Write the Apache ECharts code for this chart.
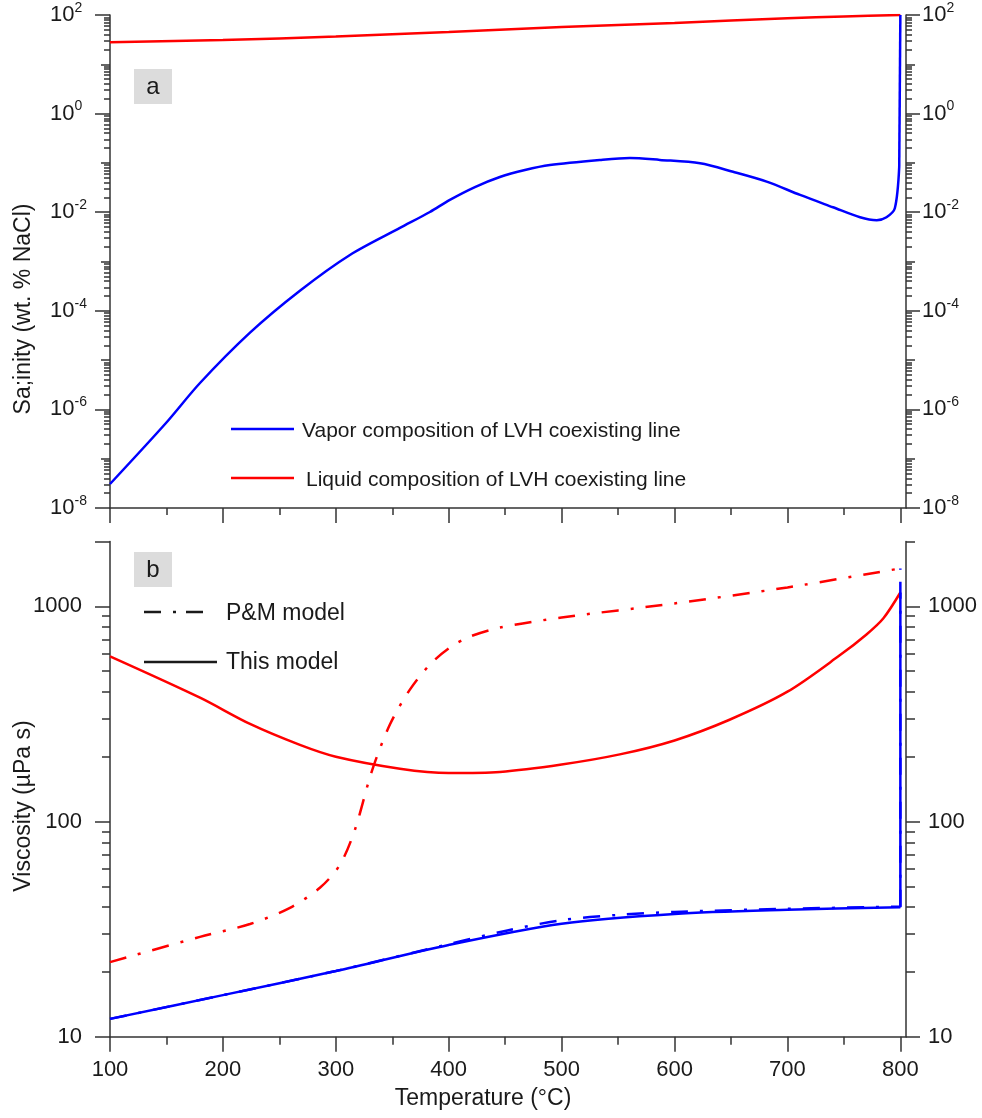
<!DOCTYPE html>
<html><head><meta charset="utf-8">
<script src="https://cdn.jsdelivr.net/npm/echarts@6/dist/echarts.min.js"></script>
<style>html,body{margin:0;padding:0;background:#fff}#c{width:982px;height:1118px}</style>
</head><body><div id="c"></div>
<script>
// ---------------- DATA ----------------
// Panel a: salinity (wt. % NaCl)
const vaporSalT = [100,149.6,179.7,224,268.2,312.5,356.8,383.3,401,423.2,445.3,467.5,489.6,533.9,560.4,587,622.6,651.8,681.6,711.2,740.4,764.3,779.1,787.7,795.1,799];
const vaporSal  = [3.07e-8,5.3e-7,3.43e-6,3.6e-5,2.55e-4,1.355e-3,4.79e-3,1.01e-2,1.78e-2,3.24e-2,5.18e-2,7.18e-2,9.06e-2,0.115,0.126,0.115,0.098,0.066,0.0417,0.0224,0.0126,0.0079,0.0069,0.0079,0.012,0.083];
const vaporSalRiseT = [799, 800];
const vaporSalRise  = [0.083, 100];
const liquidSalT = [100,200,300,400,500,600,700,750,800];
const liquidSal  = [27.9,31.1,36.6,45.2,57.2,69,86,93,100];
// Panel b: viscosity (µPa s)
const liqViscT = [100,179.7,224,268.2,300,356.8,400,445.3,500,551.5,600,648.7,700,746,770,785,800];
const liqVisc  = [585,376,284,227,200,176,168,170,184,205,238,297,401,590,740,880,1159];
const pmLiqViscT = [100,179.7,224,259.4,285.9,303.6,316.9,332,347.9,365.6,383.3,401,418.8,445.3,500,600,700,800];
const pmLiqVisc  = [22.2,29.1,33.4,39.7,49.2,62.9,91.5,172,282,410,536,643,723,796,887,1031,1224,1500];
const vapViscT = [100,200,300,400,500,600,700,800];
const vapVisc  = [12.1,15.6,20.2,26.7,33.5,37.2,38.9,40.0];
const vapViscRiseT = [800, 800];
const vapViscRise  = [40.0, 1159];
const pmVapViscT = [100,200,300,400,450,500,550,600,700,800];
const pmVapVisc  = [12.1,15.6,20.2,26.9,31,34.8,36.8,38,39.3,40.2];
const pmVapViscRiseT = [800, 800];
const pmVapViscRise  = [40.2, 1500];
// Tick values
const xMajorTicks = [100,200,300,400,500,600,700,800];
const xMinorTicks = [150,250,350,450,550,650,750];
const salMajorTicks = [1e-8,1e-6,1e-4,1e-2,1,100];
const salMidTicks = [1e-7,1e-5,1e-3,1e-1,10];
const viscMajorTicks = [10,100,1000];
const viscMinorTicks = [20,30,40,50,60,70,80,90,200,300,400,500,600,700,800,900];

// ---------------- HELPERS ----------------
const salMinorTicks = [];
for (let n = -8; n <= 1; n++) for (let k = 2; k <= 9; k++) salMinorTicks.push(Number((k * Math.pow(10, n)).toPrecision(3)));
const pairs = (xs, ys) => xs.map((x, i) => [x, ys[i]]);

const AX = '#333';
const TXT = '#1a1a1a';
const FONT = 'Liberation Sans, Arial, sans-serif';

function xAx(grid, ticks, len, showLine, labels) {
  return {
    type: 'value', gridIndex: grid, position: 'bottom', min: 100, max: 805,
    axisLine: {show: showLine, onZero: false, lineStyle: {color: AX, width: 1.5}},
    axisTick: {show: true, inside: false, length: len, customValues: ticks, lineStyle: {color: AX, width: 1.5}},
    axisLabel: labels ? {show: true, customValues: labels, margin: 22, fontSize: 22, color: TXT, fontFamily: FONT} : {show: false},
    splitLine: {show: false}
  };
}
function yAx(grid, pos, min, max, ticks, len, showLine, label) {
  return {
    type: 'log', logBase: 10, gridIndex: grid, position: pos, min: min, max: max,
    axisLine: {show: showLine, onZero: false, lineStyle: {color: AX, width: 1.5}},
    axisTick: {show: true, inside: false, length: len, customValues: ticks, lineStyle: {color: AX, width: 1.5}},
    axisLabel: label ? label : {show: false},
    splitLine: {show: false}
  };
}
const powRich = {
  b: {fontSize: 22, lineHeight: 28, color: TXT, fontFamily: FONT},
  s: {fontSize: 14, lineHeight: 16, verticalAlign: 'top', color: TXT, fontFamily: FONT}
};
const powFmt = v => '{b|10}{s|' + Math.round(Math.log10(v)) + '}';
const viscFmt = v => String(Math.round(v));

const solid = (color) => ({color: color, width: 2.5, type: 'solid'});
const dashdot = (color) => ({color: color, width: 2.5, type: [17, 12, 3, 12]});
function line(xi, yi, data, ls, z, smooth) {
  return {type: 'line', xAxisIndex: xi, yAxisIndex: yi, data: data, showSymbol: false, symbol: 'none',
    smooth: smooth === undefined ? 0.3 : smooth, lineStyle: ls, itemStyle: {color: ls.color}, z: z || 2, animation: false};
}

const option = {
  backgroundColor: '#fff',
  animation: false,
  textStyle: {fontFamily: FONT},
  grid: [
    {left: 110, right: 76, top: 15, height: 493},
    {left: 110, right: 76, top: 541.5, height: 495.2}
  ],
  xAxis: [
    xAx(0, xMajorTicks, 15, true, null),
    xAx(0, xMinorTicks, 7, false, null),
    xAx(1, xMajorTicks, 15, true, xMajorTicks),
    xAx(1, xMinorTicks, 8, false, null)
  ],
  yAxis: [
    yAx(0, 'left', 1e-8, 100, salMajorTicks, 15, true,
      {show: true, customValues: salMajorTicks, formatter: powFmt, rich: powRich, align: 'left', margin: 60}),
    yAx(0, 'left', 1e-8, 100, salMidTicks, 9, false, null),
    yAx(0, 'left', 1e-8, 100, salMinorTicks, 6, false, null),
    yAx(0, 'right', 1e-8, 100, salMajorTicks, 14, true,
      {show: true, customValues: salMajorTicks, formatter: powFmt, rich: powRich, margin: 16}),
    yAx(0, 'right', 1e-8, 100, salMidTicks, 9, false, null),
    yAx(0, 'right', 1e-8, 100, salMinorTicks, 6, false, null),
    yAx(1, 'left', 10, 2000, viscMajorTicks.concat([2000]), 15, true,
      {show: true, customValues: viscMajorTicks, formatter: viscFmt, fontSize: 22, color: TXT, fontFamily: FONT, margin: 28}),
    yAx(1, 'left', 10, 2000, viscMinorTicks, 8, false, null),
    yAx(1, 'right', 10, 2000, viscMajorTicks, 14, true,
      {show: true, customValues: viscMajorTicks, formatter: viscFmt, fontSize: 22, color: TXT, fontFamily: FONT, margin: 22}),
    yAx(1, 'right', 10, 2000, viscMinorTicks.concat([2000]), 9, false, null)
  ],
  series: [
    line(0, 0, pairs(liquidSalT, liquidSal), solid('#ff0000')),
    line(0, 0, pairs(vaporSalT, vaporSal), solid('#0000ff'), 3),
    line(0, 0, pairs(vaporSalRiseT, vaporSalRise), solid('#0000ff'), 3, false),
    line(2, 6, pairs(pmLiqViscT, pmLiqVisc), dashdot('#ff0000')),
    line(2, 6, pairs(liqViscT, liqVisc), solid('#ff0000')),
    line(2, 6, pairs(pmVapViscT, pmVapVisc), dashdot('#0000ff'), 3),
    line(2, 6, pairs(pmVapViscRiseT, pmVapViscRise), dashdot('#0000ff'), 3, false),
    line(2, 6, pairs(vapViscT, vapVisc), solid('#0000ff'), 4),
    line(2, 6, pairs(vapViscRiseT, vapViscRise), solid('#0000ff'), 4, false)
  ],
  graphic: [
    {type: 'rect', shape: {x: 134, y: 69, width: 38, height: 35}, style: {fill: '#dcdcdc'}},
    {type: 'text', x: 153, y: 87, style: {text: 'a', fontSize: 24, fontFamily: FONT, fill: TXT, align: 'center', verticalAlign: 'middle'}},
    {type: 'rect', shape: {x: 134, y: 552, width: 38, height: 35}, style: {fill: '#dcdcdc'}},
    {type: 'text', x: 153, y: 570, style: {text: 'b', fontSize: 24, fontFamily: FONT, fill: TXT, align: 'center', verticalAlign: 'middle'}},
    {type: 'line', shape: {x1: 231, y1: 429, x2: 294, y2: 429}, style: {stroke: '#0000ff', lineWidth: 2.5}},
    {type: 'text', x: 302, y: 431, style: {text: 'Vapor composition of LVH coexisting line', fontSize: 21, fontFamily: FONT, fill: TXT, align: 'left', verticalAlign: 'middle'}},
    {type: 'line', shape: {x1: 231, y1: 478, x2: 294, y2: 478}, style: {stroke: '#ff0000', lineWidth: 2.5}},
    {type: 'text', x: 306, y: 480, style: {text: 'Liquid composition of LVH coexisting line', fontSize: 21, fontFamily: FONT, fill: TXT, align: 'left', verticalAlign: 'middle'}},
    {type: 'line', shape: {x1: 144, y1: 612, x2: 206, y2: 612}, style: {stroke: '#1a1a1a', lineWidth: 2.5, lineDash: [17, 12, 3, 10]}},
    {type: 'text', x: 226, y: 614, style: {text: 'P&M model', fontSize: 23, fontFamily: FONT, fill: TXT, align: 'left', verticalAlign: 'middle'}},
    {type: 'line', shape: {x1: 144, y1: 662, x2: 217, y2: 662}, style: {stroke: '#1a1a1a', lineWidth: 2.5}},
    {type: 'text', x: 226, y: 663, style: {text: 'This model', fontSize: 23, fontFamily: FONT, fill: TXT, align: 'left', verticalAlign: 'middle'}},
    {type: 'text', x: 24, y: 309, rotation: Math.PI / 2, style: {text: 'Sa;inity (wt. % NaCl)', fontSize: 23, fontFamily: FONT, fill: TXT, align: 'center', verticalAlign: 'middle'}},
    {type: 'text', x: 24, y: 806, rotation: Math.PI / 2, style: {text: 'Viscosity (µPa s)', fontSize: 23, fontFamily: FONT, fill: TXT, align: 'center', verticalAlign: 'middle'}},
    {type: 'text', x: 483, y: 1099, style: {text: 'Temperature (°C)', fontSize: 23, fontFamily: FONT, fill: TXT, align: 'center', verticalAlign: 'middle'}}
  ]
};
const chart = echarts.init(document.getElementById('c'), null, {renderer: 'canvas'});
chart.setOption(option);
</script>
</body></html>
